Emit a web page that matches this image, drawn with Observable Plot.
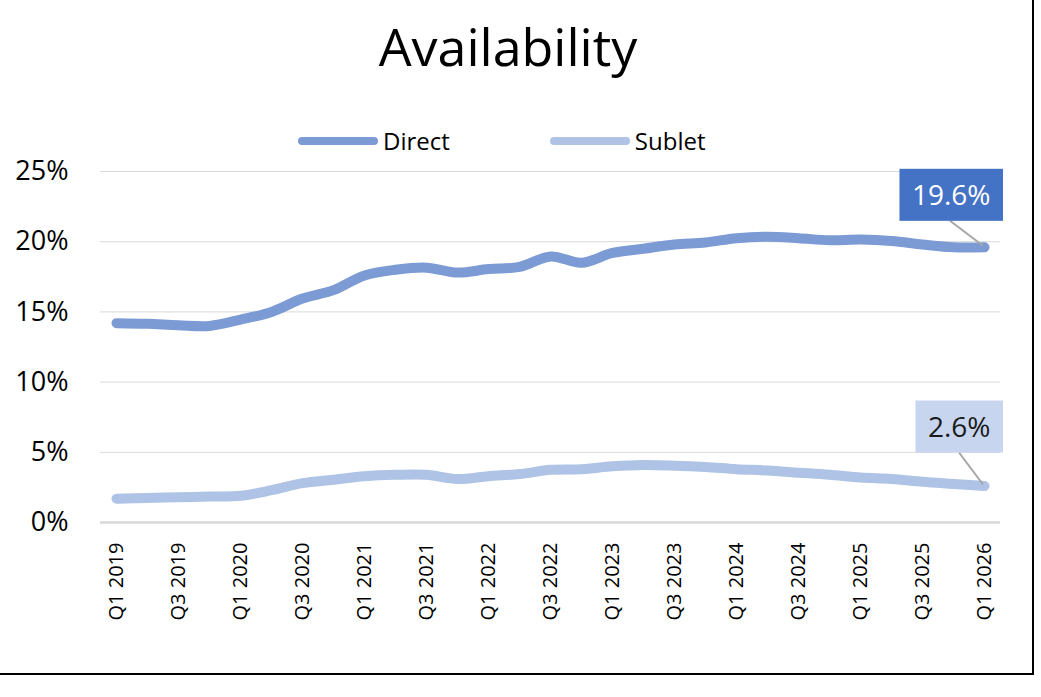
<!DOCTYPE html>
<html>
<head>
<meta charset="utf-8">
<script src="https://cdn.jsdelivr.net/npm/d3@7"></script>
<script src="https://cdn.jsdelivr.net/npm/@observablehq/plot@0.6"></script>
<style>
  body { margin: 0; background: #fff; font-family: "Open Sans", sans-serif; }
  #chart { position: relative; width: 1041px; height: 697px; overflow: hidden; background: #fff; }
  #frame { position: absolute; left: -10px; top: -10px; width: 1044px; height: 685px;
           border: 2px solid #000; box-sizing: border-box; pointer-events: none; }
  #title { position: absolute; left: 0; top: 20px; width: 1016px; text-align: center;
           font-size: 52px; line-height: 1; color: #000; }
  #legend { position: absolute; left: 298px; top: 126px; display: flex; align-items: center;
            font-size: 24px; line-height: 30px; color: #000; }
  #legend .item { display: flex; align-items: center; }
  #legend .item + .item { margin-left: 100px; }
  #legend .key { display: inline-block; width: 80px; height: 8px; border-radius: 4px; margin-right: 5px; }
  #plot { position: absolute; left: 0; top: 0; }
</style>
</head>
<body>
<div id="chart">
  <div id="title">Availability</div>
  <div id="legend"></div>
  <div id="plot"></div>
  <div id="frame"></div>
</div>
<script>
// Quarterly availability rates (%), Q1 2019 – Q1 2026
const quarters = [
  "Q1 2019","Q2 2019","Q3 2019","Q4 2019",
  "Q1 2020","Q2 2020","Q3 2020","Q4 2020",
  "Q1 2021","Q2 2021","Q3 2021","Q4 2021",
  "Q1 2022","Q2 2022","Q3 2022","Q4 2022",
  "Q1 2023","Q2 2023","Q3 2023","Q4 2023",
  "Q1 2024","Q2 2024","Q3 2024","Q4 2024",
  "Q1 2025","Q2 2025","Q3 2025","Q4 2025",
  "Q1 2026"
];
const direct = [
  14.2, 14.15, 14.05, 14.0,
  14.45, 15.0, 15.95, 16.55,
  17.6, 18.0, 18.15, 17.8,
  18.05, 18.2, 18.95, 18.5,
  19.2, 19.5, 19.8, 19.95,
  20.25, 20.35, 20.25, 20.1,
  20.15, 20.05, 19.8, 19.6,
  19.6
];
const sublet = [
  1.7, 1.75, 1.8, 1.85,
  1.9, 2.3, 2.8, 3.05,
  3.3, 3.4, 3.4, 3.1,
  3.3, 3.45, 3.75, 3.8,
  4.0, 4.1, 4.05, 3.95,
  3.8, 3.7, 3.55, 3.4,
  3.2, 3.1, 2.9, 2.75,
  2.6
];
const seriesNames = ["Direct", "Sublet"];
const yTicks = [0, 5, 10, 15, 20, 25];
const xTickLabels = quarters.filter((q, i) => i % 2 === 0);

// Styling
const lineColors = ["#7c9bd5", "#aec3e5"];
const calloutStyle = {
  Direct: { fill: "#4472c4", text: "#ffffff", top: -78, leaderX: -34 },
  Sublet: { fill: "#c8d5ee", text: "#1a1a1a", top: -85, leaderX: -25 }
};
const calloutFont = "28px 'Open Sans'";

const valuesBySeries = { Direct: direct, Sublet: sublet };
const rows = seriesNames.flatMap(s =>
  quarters.map((q, i) => ({ quarter: q, series: s, value: valuesBySeries[s][i] }))
);

// Legend
const legend = document.getElementById("legend");
seriesNames.forEach((s, i) => {
  const item = document.createElement("div");
  item.className = "item";
  item.innerHTML = `<span class="key" style="background:${lineColors[i]}"></span><span>${s}</span>`;
  legend.appendChild(item);
});

// Measure text to size the callout boxes
const measureCtx = document.createElement("canvas").getContext("2d");
measureCtx.font = calloutFont;

// End-of-series value callouts with a leader line
function endCallouts(index, scales) {
  const g = d3.create("svg:g");
  const lastQ = quarters[quarters.length - 1];
  seriesNames.forEach(s => {
    const vals = valuesBySeries[s];
    const v = vals[vals.length - 1];
    const px = scales.x(lastQ);
    const py = scales.y(v);
    const st = calloutStyle[s];
    const label = d3.format(".1f")(v) + "%";
    const tw = measureCtx.measureText(label).width;
    const w = tw + 25, h = 52;
    const right = px + 19;
    const left = right - w;
    const top = py + st.top;
    g.append("line")
      .attr("x1", px + st.leaderX).attr("y1", top + h)
      .attr("x2", px - 1).attr("y2", py - 1)
      .attr("stroke", "#a6a6a6").attr("stroke-width", 2);
    g.append("rect")
      .attr("x", left).attr("y", top).attr("width", w).attr("height", h)
      .attr("fill", st.fill);
    g.append("text")
      .attr("x", left + w / 2).attr("y", top + h / 2)
      .attr("dy", "0.36em")
      .attr("text-anchor", "middle")
      .attr("fill", st.text)
      .style("font", calloutFont)
      .text(label);
  });
  return g.node();
}

const chart = Plot.plot({
  width: 1041,
  height: 697,
  marginTop: 171,
  marginBottom: 175,
  marginLeft: 100,
  marginRight: 41,
  style: { fontFamily: "'Open Sans', sans-serif", color: "#000", background: "transparent", overflow: "visible" },
  x: { type: "point", domain: quarters, padding: 0.5, label: null },
  y: { domain: [0, 25], label: null },
  color: { domain: seriesNames, range: lineColors },
  marks: [
    Plot.ruleY(yTicks, { stroke: "#d9d9d9", strokeWidth: 1 }),
    Plot.ruleY([0], { stroke: "#d9d9d9", strokeWidth: 2.5 }),
    Plot.line(rows, {
      x: "quarter", y: "value", z: "series", stroke: "series",
      strokeWidth: 10, curve: "catmull-rom", strokeLinecap: "round", strokeLinejoin: "round"
    }),
    endCallouts,
    Plot.axisY({
      ticks: yTicks, tickFormat: d => d + "%", tickSize: 0, tickPadding: 32,
      fontSize: 27, fill: "#000", label: null
    }),
    Plot.axisX({
      ticks: xTickLabels, tickSize: 0, tickPadding: 20, tickRotate: -90,
      fontSize: 20, fill: "#000", label: null
    })
  ]
});
document.getElementById("plot").appendChild(chart);
</script>
</body>
</html>
